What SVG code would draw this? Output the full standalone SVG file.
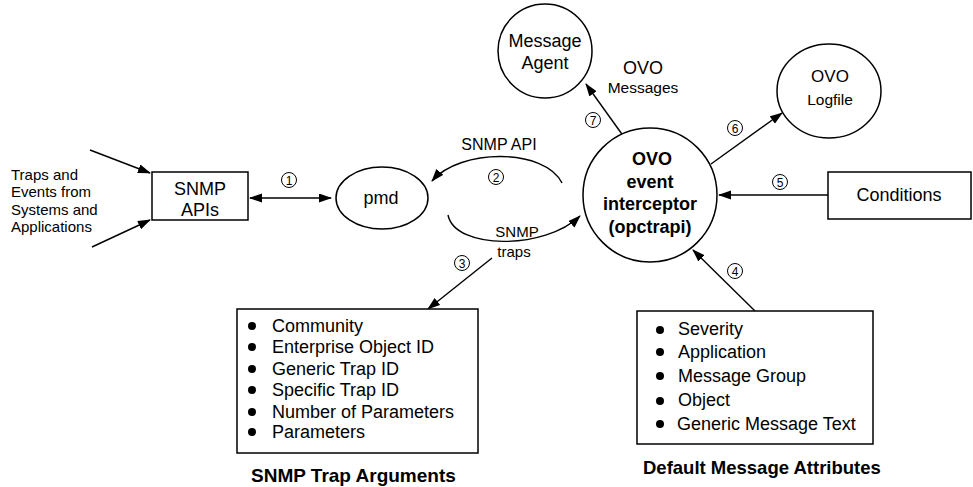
<svg xmlns="http://www.w3.org/2000/svg" width="973" height="487" viewBox="0 0 973 487">
<style>
text{font-family:"Liberation Sans",Arial,sans-serif;fill:#000}
.n{fill:#fff;stroke:#000;stroke-width:1.5}
.c{fill:none;stroke:#000;stroke-width:1.4}
.num{fill:#fff;stroke:#000;stroke-width:1}
.nt{font-size:12px;text-anchor:middle}
.m{text-anchor:middle}
.b{font-weight:bold}
</style>
<defs>
<marker id="ah" markerUnits="userSpaceOnUse" markerWidth="14" markerHeight="10" refX="12" refY="4.5" orient="auto-start-reverse">
<path d="M0,0 L13,4.5 L0,9 z" fill="#000"/>
</marker>
</defs>
<rect width="973" height="487" fill="#fff"/>

<g id="connectors">
<line class="c" x1="90" y1="150" x2="150" y2="173" marker-end="url(#ah)"/>
<line class="c" x1="92" y1="247" x2="150" y2="220" marker-end="url(#ah)"/>
<line class="c" x1="250" y1="198" x2="331" y2="198" marker-start="url(#ah)" marker-end="url(#ah)"/>
<path class="c" d="M562 183 C545 148,460 148,432 181" marker-end="url(#ah)"/>
<path class="c" d="M448 215 C455 250,545 250,580 216" marker-end="url(#ah)"/>
<line class="c" x1="492" y1="258" x2="428" y2="309" marker-end="url(#ah)"/>
<line class="c" x1="624" y1="137" x2="586" y2="84" marker-end="url(#ah)"/>
<line class="c" x1="711" y1="164" x2="782" y2="113" marker-end="url(#ah)"/>
<line class="c" x1="828" y1="195" x2="719" y2="195" marker-end="url(#ah)"/>
<line class="c" x1="755" y1="311" x2="693" y2="250" marker-end="url(#ah)"/>
<g id="labels">
<text x="499" y="150" class="m" font-size="16">SNMP API</text>
<text x="517" y="237" class="m" font-size="15">SNMP</text>
<text x="514" y="257" class="m" font-size="15">traps</text>
<text x="643" y="74" class="m" font-size="18">OVO</text>
<text x="643" y="93" class="m" font-size="15.5">Messages</text>
</g>
<g id="numbers">
<circle class="num" cx="289" cy="180" r="7.5"/><text x="289" y="184.5" class="nt">1</text>
<circle class="num" cx="496" cy="177" r="7.5"/><text x="496" y="181.5" class="nt">2</text>
<circle class="num" cx="462" cy="263" r="7.5"/><text x="462" y="267.5" class="nt">3</text>
<circle class="num" cx="735" cy="271" r="7.5"/><text x="735" y="275.5" class="nt">4</text>
<circle class="num" cx="780" cy="182" r="7.5"/><text x="780" y="186.5" class="nt">5</text>
<circle class="num" cx="735" cy="128" r="7.5"/><text x="735" y="132.5" class="nt">6</text>
<circle class="num" cx="593" cy="120" r="7.5"/><text x="593" y="124.5" class="nt">7</text>
</g>
</g>

<g id="sources">
<text x="11" y="180" font-size="15">Traps and</text>
<text x="11" y="197" font-size="15">Events from</text>
<text x="11" y="215" font-size="15">Systems and</text>
<text x="11" y="232" font-size="15">Applications</text>
</g>

<g id="snmp-apis">
<rect class="n" x="152" y="172" width="96" height="48"/>
<text x="200" y="195" class="m" font-size="18">SNMP</text>
<text x="200" y="216" class="m" font-size="18">APIs</text>
</g>

<g id="pmd">
<ellipse class="n" cx="382" cy="198" rx="46" ry="31"/>
<text x="381" y="204" class="m" font-size="18">pmd</text>
</g>

<g id="opctrapi">
<circle class="n" cx="650" cy="195" r="67"/>
<text x="652" y="165" class="m b" font-size="18">OVO</text>
<text x="650" y="188" class="m b" font-size="18">event</text>
<text x="650" y="210" class="m b" font-size="18">interceptor</text>
<text x="650" y="233" class="m b" font-size="18">(opctrapi)</text>
</g>

<g id="message-agent">
<circle class="n" cx="545" cy="51" r="47"/>
<text x="545" y="47" class="m" font-size="18">Message</text>
<text x="545" y="69" class="m" font-size="18">Agent</text>
</g>

<g id="logfile">
<ellipse class="n" cx="829" cy="91" rx="52" ry="47"/>
<text x="830" y="82" class="m" font-size="17">OVO</text>
<text x="830" y="105" class="m" font-size="15.5">Logfile</text>
</g>

<g id="conditions">
<rect class="n" x="828" y="172" width="143" height="47"/>
<text x="899" y="201" class="m" font-size="18">Conditions</text>
</g>

<g id="trap-arguments">
<rect class="n" x="237" y="309" width="241" height="144"/>
<g fill="#000">
<circle cx="252" cy="326" r="4"/><circle cx="252" cy="347" r="4"/><circle cx="252" cy="369" r="4"/>
<circle cx="252" cy="390" r="4"/><circle cx="252" cy="412" r="4"/><circle cx="252" cy="432" r="4"/>
</g>
<text x="272" y="332" font-size="18">Community</text>
<text x="272" y="353" font-size="18">Enterprise Object ID</text>
<text x="272" y="375" font-size="18">Generic Trap ID</text>
<text x="272" y="396" font-size="18">Specific Trap ID</text>
<text x="272" y="418" font-size="18">Number of Parameters</text>
<text x="272" y="438" font-size="18">Parameters</text>
<text x="251" y="482" class="b" font-size="19">SNMP Trap Arguments</text>
</g>

<g id="message-attributes">
<rect class="n" x="637" y="311" width="236" height="133"/>
<g fill="#000">
<circle cx="660" cy="330" r="4"/><circle cx="660" cy="352" r="4"/><circle cx="660" cy="376" r="4"/>
<circle cx="660" cy="401" r="4"/><circle cx="660" cy="424" r="4"/>
</g>
<text x="678" y="335" font-size="18">Severity</text>
<text x="678" y="358" font-size="18">Application</text>
<text x="678" y="382" font-size="18">Message Group</text>
<text x="678" y="406" font-size="18">Object</text>
<text x="677" y="430" font-size="18">Generic Message Text</text>
<text x="643" y="474" class="b" font-size="18.5">Default Message Attributes</text>
</g>
</svg>
